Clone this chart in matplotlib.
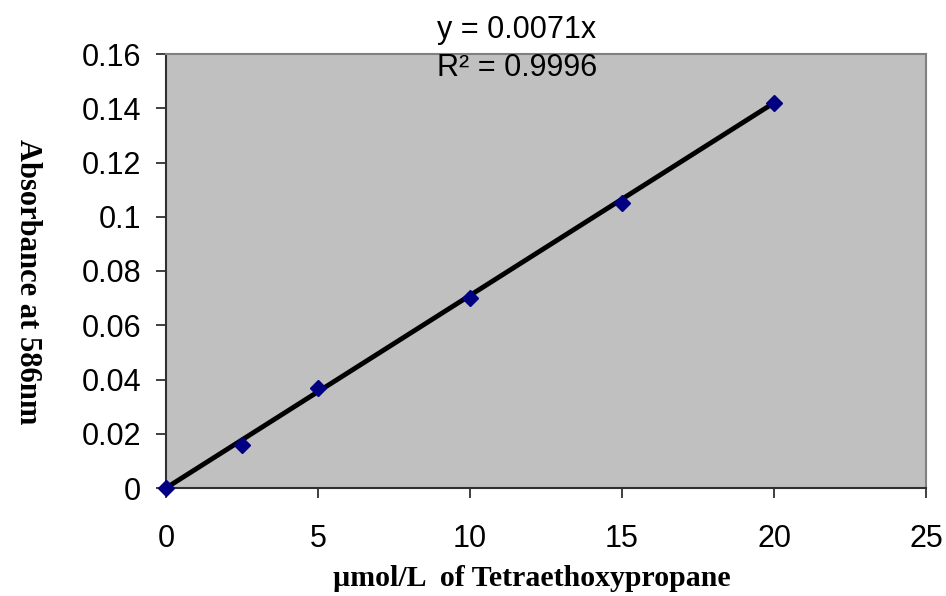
import matplotlib
matplotlib.use("Agg")
import matplotlib.pyplot as plt
import numpy as np

conc = [0, 2.5, 5, 10, 15, 20]
absorb = [0.0, 0.016, 0.037, 0.070, 0.105, 0.142]
slope = 0.0071
x_ticks = [0, 5, 10, 15, 20, 25]
y_ticks = [0, 0.02, 0.04, 0.06, 0.08, 0.1, 0.12, 0.14, 0.16]
y_tick_labels = ["0", "0.02", "0.04", "0.06", "0.08", "0.1", "0.12", "0.14", "0.16"]

fig = plt.figure(figsize=(9.46, 5.96), dpi=100)
ax = fig.add_axes([166/946, 1-488/596, (926-166)/946, (488-54)/596])
ax.set_facecolor("#c0c0c0")

xl = np.array([0, 20])
ax.plot(xl, slope*xl, color="black", lw=3.5, zorder=2, solid_capstyle="butt")
ax.plot(conc, absorb, linestyle="none", marker="D", markersize=8, color="#000080",
        zorder=3, clip_on=False)

ax.set_xlim(0, 25)
ax.set_ylim(0, 0.16)
ax.set_xticks(x_ticks)
ax.set_xticklabels([str(t) for t in x_ticks])
ax.set_yticks(y_ticks)
ax.set_yticklabels(y_tick_labels)
for lab in ax.get_xticklabels() + ax.get_yticklabels():
    lab.set_fontfamily("Liberation Sans")
    lab.set_fontsize(22)
ax.tick_params(direction="out", length=7, width=1.3, color="#303030")
ax.tick_params(axis="x", pad=19)
ax.tick_params(axis="y", pad=11)

ax.spines["left"].set_color("#303030")
ax.spines["bottom"].set_color("#303030")
ax.spines["left"].set_linewidth(1.5)
ax.spines["bottom"].set_linewidth(1.5)
ax.spines["top"].set_color("#808080")
ax.spines["right"].set_color("#808080")
ax.spines["top"].set_linewidth(1.5)
ax.spines["right"].set_linewidth(1.5)

fig.text(532/946, 1-578/596, "µmol/L  of Tetraethoxypropane", fontfamily="Liberation Serif",
         fontweight="bold", fontsize=21.5, ha="center", va="center")
fig.text(27/946, 1-282/596, "Absorbance at 586nm", fontfamily="Liberation Serif",
         fontweight="bold", fontsize=22, ha="center", va="center", rotation=270)

fig.text(437/946, 1-30/596, "y = 0.0071x", fontfamily="Liberation Sans", fontsize=22,
         ha="left", va="center")
fig.text(437/946, 1-68/596, "R² = 0.9996", fontfamily="Liberation Sans", fontsize=22,
         ha="left", va="center")

fig.savefig("out.png", dpi=100)
